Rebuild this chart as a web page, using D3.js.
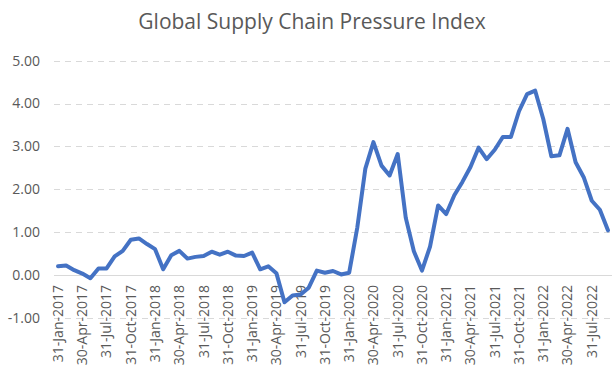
<!DOCTYPE html>
<html>
<head>
<meta charset="utf-8">
<script src="https://cdn.jsdelivr.net/npm/d3@7"></script>
<style>
  body { margin: 0; background: #fff; }
  svg { display: block; font-family: "Open Sans", sans-serif; }
</style>
</head>
<body>
<div id="chart"></div>
<script>
  // monthly GSCPI readings, one array per year (Jan..Dec)
  var v2017 = [0.20, 0.22, 0.11, 0.03, -0.08, 0.15, 0.15, 0.43, 0.56, 0.82, 0.85, 0.72];
  var v2018 = [0.60, 0.13, 0.46, 0.56, 0.38, 0.42, 0.44, 0.54, 0.47, 0.54, 0.45, 0.44];
  var v2019 = [0.52, 0.13, 0.20, 0.04, -0.64, -0.48, -0.46, -0.30, 0.10, 0.05, 0.09, 0.01];
  var v2020 = [0.05, 1.10, 2.48, 3.10, 2.55, 2.32, 2.82, 1.33, 0.55, 0.10, 0.66, 1.62];
  var v2021 = [1.42, 1.86, 2.17, 2.52, 2.97, 2.70, 2.92, 3.22, 3.22, 3.82, 4.22, 4.30];
  var v2022 = [3.64, 2.77, 2.79, 3.41, 2.63, 2.28, 1.73, 1.52, 1.04];

  var years = [2017, 2018, 2019, 2020, 2021, 2022];
  var series = [v2017, v2018, v2019, v2020, v2021, v2022];
  var yTicks = [-1, 0, 1, 2, 3, 4, 5];
  var title = 'Global Supply Chain Pressure Index';

  var width = 613, height = 373;
  var fmtDate = d3.utcFormat('%d-%b-%Y');

  // build month-end categories from the yearly arrays
  var data = [];
  series.forEach(function(arr, yi) {
    arr.forEach(function(v, m) {
      var d = new Date(Date.UTC(years[yi], m + 1, 0));
      data.push({ label: fmtDate(d), value: v });
    });
  });

  var svg = d3.select('#chart').append('svg')
    .attr('width', width)
    .attr('height', height);

  var x = d3.scaleBand()
    .domain(data.map(function(d) { return d.label; }))
    .range([54, 612]);

  var y = d3.scaleLinear()
    .domain([-1, 5])
    .range([317.7, 60.7]);

  svg.append('text')
    .attr('x', 312)
    .attr('y', 29)
    .attr('text-anchor', 'middle')
    .attr('fill', '#595959')
    .style('font-size', '21px')
    .text(title);

  // gridlines
  svg.append('g').selectAll('line')
    .data(yTicks)
    .enter().append('line')
    .attr('x1', 54)
    .attr('x2', 612)
    .attr('y1', function(d) { return Math.round(y(d)) + 0.5; })
    .attr('y2', function(d) { return Math.round(y(d)) + 0.5; })
    .attr('stroke', '#d9d9d9')
    .attr('stroke-width', 1)
    .attr('stroke-dasharray', function(d) { return d === 0 ? null : '6,5'; });

  // y labels
  svg.append('g').selectAll('text')
    .data(yTicks)
    .enter().append('text')
    .attr('x', 40)
    .attr('y', function(d) { return y(d); })
    .attr('dy', '0.35em')
    .attr('text-anchor', 'end')
    .attr('fill', '#595959')
    .style('font-size', '14px')
    .text(function(d) { return d.toFixed(2); });

  // x labels, every third month
  var xLabels = data.filter(function(d, i) { return i % 3 === 0; });
  svg.append('g').selectAll('text')
    .data(xLabels)
    .enter().append('text')
    .attr('transform', function(d) {
      return 'translate(' + (x(d.label) + x.bandwidth() / 2) + ',285) rotate(-90)';
    })
    .attr('dy', '0.35em')
    .attr('text-anchor', 'end')
    .attr('fill', '#595959')
    .style('font-size', '14px')
    .text(function(d) { return d.label; });

  var line = d3.line()
    .x(function(d) { return x(d.label) + x.bandwidth() / 2; })
    .y(function(d) { return y(d.value); });

  svg.append('path')
    .datum(data)
    .attr('d', line)
    .attr('fill', 'none')
    .attr('stroke', '#4472c4')
    .attr('stroke-width', 4)
    .attr('stroke-linejoin', 'round')
    .attr('stroke-linecap', 'round');
</script>
</body>
</html>
